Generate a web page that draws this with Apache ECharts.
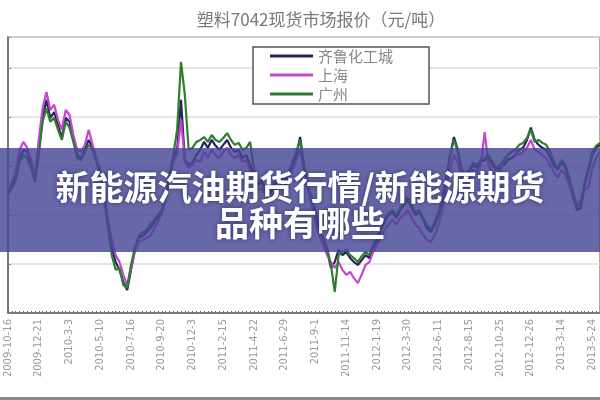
<!DOCTYPE html>
<html>
<head>
<meta charset="utf-8">
<script src="https://cdn.jsdelivr.net/npm/echarts@6.0.0/dist/echarts.min.js"></script>
<style>html,body{margin:0;padding:0;background:#fff;}#c{width:600px;height:400px;}</style>
</head>
<body>
<div id="c"></div>
<script>
const chartTitle = '塑料7042现货市场报价（元/吨）';
const bannerLines = ['新能源汽油期货行情/新能源期货', '品种有哪些'];
const seriesNames = ['齐鲁化工城', '上海', '广州'];
const tickLabels = ['2009-10-16','2009-12-21','2010-3-3','2010-5-10','2010-7-16','2010-9-20','2010-12-3','2011-2-15','2011-4-22','2011-6-29','2011-9-1','2011-11-14','2012-1-19','2012-3-30','2012-6-11','2012-8-15','2012-10-25','2012-12-26','2013-3-14','2013-5-24'];
const STEP = 8; // data points between two tick labels

const qilu = [10470,10610,10760,11120,11330,11290,11020,10710,11330,11980,12350,11980,12100,11840,11570,11980,11900,11530,11220,11160,
11330,11530,11370,11120,10880,10410,9900,9330,9040,8880,8630,8470,8880,9290,9530,9570,9650,9730,9860,9940,
10060,10350,10760,11160,11330,12350,11120,11020,11080,11220,11330,11490,11370,11530,11410,11330,11430,11530,11370,11290,
11330,11160,11220,11020,10820,10610,10670,10510,10410,10550,10710,10760,10610,10820,11020,11220,11590,10960,10610,10310,
10000,9730,9490,9290,8920,9040,9290,9180,9250,9120,9040,8980,9080,9180,9120,9330,9490,9690,9860,10000,
10060,9940,10100,10200,10310,10140,10000,10060,9900,9730,9650,9800,10000,10310,10710,11220,11590,11330,10920,10820,
10880,11020,10960,11080,11120,11160,11020,10920,10960,11020,11120,11160,11220,11330,11370,11530,11780,11530,11430,11370,
11330,11180,11020,10920,11080,10960,10710,10410,10100,10140,10610,10920,11220,11370,11430];

const shanghai = [10410,10670,10880,11330,11490,11370,11120,10820,11530,12180,12510,12140,12250,11940,11740,12140,12040,11630,11330,11290,
11430,11740,11430,11160,10920,10470,9940,9490,9180,9040,8780,8570,8920,9250,9450,9490,9530,9570,9730,9860,
10020,10310,10710,11080,11220,11940,11080,10960,11020,11120,11080,11290,11160,11330,11220,11160,11290,11370,11220,11160,
11220,11080,11120,10920,10710,10510,10550,10410,10310,10410,10550,10610,10510,10710,10920,11120,11330,10880,10510,10200,
9860,9590,9390,9180,9040,8920,9040,8880,8780,8840,8710,8610,8780,8980,9040,9250,9390,9530,9690,9800,
9900,9800,9940,10000,10100,9940,9800,9730,9590,9490,9450,9590,9800,10100,10510,10920,11220,11080,10760,10670,
10760,10920,10880,11020,11690,11020,10880,10820,10880,11120,11220,11290,11330,11220,11290,11370,11530,11330,11290,11220,
11160,11020,10880,10760,10920,10820,10610,10310,10200,10310,10510,10570,10960,11160,11290];

const guangzhou = [10410,10550,10710,11080,11220,11160,10960,10670,11220,11900,12180,11900,11980,11740,11530,11900,11780,11490,11160,11120,
11290,11430,11330,11080,10820,10310,9730,9180,8880,8920,8570,8510,8980,9330,9570,9650,9690,9800,9900,10000,
10100,10410,10820,11220,11740,13120,12450,11330,11370,11490,11530,11590,11490,11630,11530,11490,11570,11670,11530,11430,
11470,11330,11370,11490,10920,10670,10710,10550,10470,10610,10760,10820,10670,10880,11080,11290,11530,11020,10670,10350,
10060,9800,9530,9330,8980,8430,9180,9250,9290,9180,9120,9040,9160,9250,9180,9390,9530,9730,9900,10040,
10100,10000,10140,10270,10350,10200,10060,10100,9940,9800,9690,9860,10060,10350,10760,11220,11530,11290,10920,10840,
10920,11060,11020,11120,11160,11220,11080,10960,11020,11120,11220,11290,11330,11430,11470,11570,11740,11490,11530,11470,
11430,11290,11080,10960,11120,11020,10760,10470,10180,10200,10670,10960,11290,11410,11470];

const categories = qilu.map((_, j) => j % STEP === 0 ? tickLabels[j / STEP] : tickLabels[Math.floor(j / STEP)] + '·' + (j % STEP));
const colors = ['#23235f', '#c544d2', '#2f7d2f'];
const allData = [qilu, shanghai, guangzhou];

const chart = echarts.init(document.getElementById('c'), null, {renderer: 'canvas'});
chart.setOption({
  animation: false,
  backgroundColor: '#ffffff',
  grid: {left: 8, right: 0, top: 37, bottom: 87, show: true, borderColor: '#8a8a8a', borderWidth: 1.5, containLabel: false},
  legend: {
    orient: 'vertical', left: 253, top: 47,
    data: seriesNames,
    icon: 'rect', itemWidth: 43, itemHeight: 3, itemGap: 3,
    padding: [1, 36, 2, 17],
    backgroundColor: '#ffffff', borderColor: '#555555', borderWidth: 1.5,
    textStyle: {color: '#888888', fontSize: 15, lineHeight: 16, fontFamily: 'Noto Sans CJK SC'}
  },
  xAxis: {
    type: 'category', data: categories, boundaryGap: false,
    axisLine: {lineStyle: {color: '#666666', width: 1.5}},
    axisTick: {show: true, interval: 0, inside: true, length: 2, lineStyle: {color: '#666666'}},
    axisLabel: {interval: STEP - 1, rotate: 90, color: '#9a9a9a', fontSize: 10, margin: 6, fontFamily: 'DejaVu Sans'},
    splitLine: {show: false}
  },
  yAxis: {
    type: 'value', min: 8000, max: 13630, interval: 1000,
    axisLine: {show: true, lineStyle: {color: '#666666', width: 1.5}},
    axisTick: {show: true, inside: true, length: 3, lineStyle: {color: '#888888'}},
    axisLabel: {show: false},
    splitLine: {lineStyle: {color: '#dcdcdc', width: 1.5}}
  },
  series: seriesNames.map((n, i) => ({
    name: n, type: 'line', data: allData[i], showSymbol: false, symbol: 'none',
    lineStyle: {color: colors[i], width: 2.2}, itemStyle: {color: colors[i]}, z: 2 + i
  })),
  graphic: [
    {type: 'text', x: 321, y: 20, z: 10,
     style: {text: chartTitle, fill: '#7a7a7a', fontSize: 17, fontFamily: 'Noto Sans CJK SC', align: 'center', verticalAlign: 'middle'}},
    {type: 'rect', shape: {x: 0, y: 148, width: 600, height: 104}, style: {fill: 'rgba(70,70,150,0.82)'}, z: 50},
    {type: 'text', x: 300, y: 187, z: 51,
     style: {text: bannerLines[0], fill: '#ffffff', fontSize: 34, fontWeight: 'bold', fontFamily: 'Noto Sans CJK SC',
       align: 'center', verticalAlign: 'middle', textShadowColor: 'rgba(20,20,60,0.6)', textShadowBlur: 4}},
    {type: 'text', x: 300, y: 223, z: 51,
     style: {text: bannerLines[1], fill: '#ffffff', fontSize: 34, fontWeight: 'bold', fontFamily: 'Noto Sans CJK SC',
       align: 'center', verticalAlign: 'middle', textShadowColor: 'rgba(20,20,60,0.6)', textShadowBlur: 4}},
    {type: 'rect', shape: {x: 0, y: 397, width: 600, height: 3}, style: {fill: '#8a8a8a'}, z: 5}
  ]
});
</script>
</body>
</html>
